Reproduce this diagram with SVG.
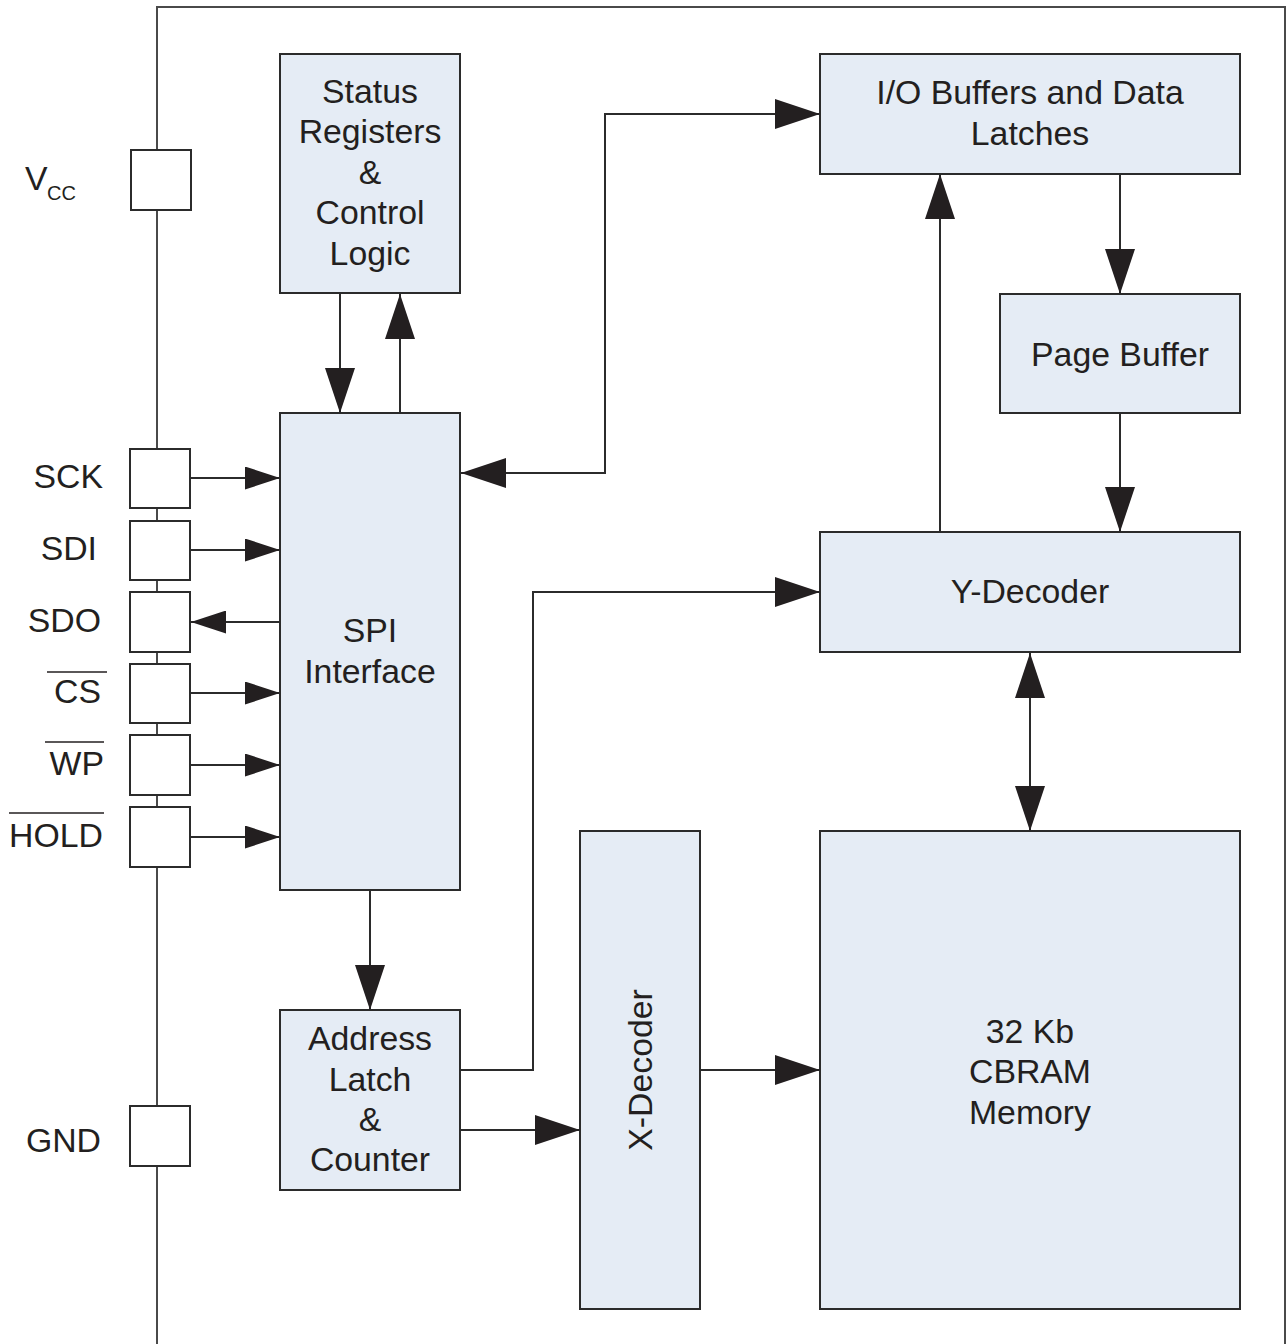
<svg xmlns="http://www.w3.org/2000/svg" width="1288" height="1344" viewBox="0 0 1288 1344">
<defs>
<style>
.blk{fill:#e5ecf5;stroke:#2b2b2b;stroke-width:2}
.pin{fill:#ffffff;stroke:#2b2b2b;stroke-width:2}
.frame{fill:none;stroke:#4a4a4a;stroke-width:2}
.con{fill:none;stroke:#2b2b2b;stroke-width:2}
.ar{marker-end:url(#ah)}
.ar2{marker-start:url(#ah);marker-end:url(#ah)}
.pa{marker-end:url(#ph)}
text{font-family:"Liberation Sans",Arial,sans-serif;font-size:33.8px;fill:#231f20}
.c{text-anchor:middle}
.e{text-anchor:end}
.ov{stroke:#231f20;stroke-width:1.5}
</style>
<marker id="ah" viewBox="0 0 45 30" refX="45" refY="15" markerWidth="45" markerHeight="30" markerUnits="userSpaceOnUse" orient="auto-start-reverse">
<path d="M0,0 L45,15 L0,30 z" fill="#231f20"/>
</marker>
<marker id="ph" viewBox="0 0 35 23" refX="35" refY="11.5" markerWidth="35" markerHeight="23" markerUnits="userSpaceOnUse" orient="auto-start-reverse">
<path d="M0,0 L35,11.5 L0,23 z" fill="#231f20"/>
</marker>
</defs>
<rect width="1288" height="1344" fill="#ffffff"/>
<path class="frame" d="M157,1344 V7 H1285 V1344"/>

<g id="pin-vcc"><rect class="pin" x="131" y="150" width="60" height="60"/>
<text x="25" y="190">V</text><text x="47" y="200" style="font-size:20px">CC</text></g>
<g id="pin-sck"><rect class="pin" x="130" y="449" width="60" height="59"/><text class="e" x="103" y="488">SCK</text></g>
<g id="pin-sdi"><rect class="pin" x="130" y="521" width="60" height="59"/><text class="e" x="97" y="560">SDI</text></g>
<g id="pin-sdo"><rect class="pin" x="130" y="592" width="60" height="60"/><text class="e" x="101" y="632">SDO</text></g>
<g id="pin-cs"><rect class="pin" x="130" y="664" width="60" height="59"/><text class="e" x="101" y="703">CS</text><line class="ov" x1="47" y1="672" x2="107" y2="672"/></g>
<g id="pin-wp"><rect class="pin" x="130" y="735" width="60" height="60"/><text class="e" x="104" y="775">WP</text><line class="ov" x1="45" y1="742" x2="104" y2="742"/></g>
<g id="pin-hold"><rect class="pin" x="130" y="807" width="60" height="60"/><text class="e" x="103" y="847">HOLD</text><line class="ov" x1="9" y1="813" x2="104" y2="813"/></g>
<g id="pin-gnd"><rect class="pin" x="130" y="1106" width="60" height="60"/><text class="e" x="101" y="1152">GND</text></g>

<g id="status"><rect class="blk" x="280" y="54" width="180" height="239"/>
<text class="c" x="370" y="103">Status</text><text class="c" x="370" y="143">Registers</text><text class="c" x="370" y="184">&amp;</text><text class="c" x="370" y="224">Control</text><text class="c" x="370" y="265">Logic</text></g>
<g id="spi"><rect class="blk" x="280" y="413" width="180" height="477"/>
<text class="c" x="370" y="642">SPI</text><text class="c" x="370" y="683">Interface</text></g>
<g id="addr"><rect class="blk" x="280" y="1010" width="180" height="180"/>
<text class="c" x="370" y="1050">Address</text><text class="c" x="370" y="1091">Latch</text><text class="c" x="370" y="1131">&amp;</text><text class="c" x="370" y="1171">Counter</text></g>
<g id="xdec"><rect class="blk" x="580" y="831" width="120" height="478"/>
<text class="c" transform="translate(652,1070) rotate(-90)" x="0" y="0">X-Decoder</text></g>
<g id="io"><rect class="blk" x="820" y="54" width="420" height="120"/>
<text class="c" x="1030" y="104">I/O Buffers and Data</text><text class="c" x="1030" y="145">Latches</text></g>
<g id="page"><rect class="blk" x="1000" y="294" width="240" height="119"/>
<text class="c" x="1120" y="366">Page Buffer</text></g>
<g id="ydec"><rect class="blk" x="820" y="532" width="420" height="120"/>
<text class="c" x="1030" y="603">Y-Decoder</text></g>
<g id="cbram"><rect class="blk" x="820" y="831" width="420" height="478"/>
<text class="c" x="1030" y="1043">32 Kb</text><text class="c" x="1030" y="1083">CBRAM</text><text class="c" x="1030" y="1124">Memory</text></g>

<g id="connectors">
<path class="con pa" d="M190,478 H280"/>
<path class="con pa" d="M190,550 H280"/>
<path class="con pa" d="M280,622 H191"/>
<path class="con pa" d="M190,693 H280"/>
<path class="con pa" d="M190,765 H280"/>
<path class="con pa" d="M190,837 H280"/>
<path class="con ar" d="M340,293 V413"/>
<path class="con ar" d="M400,413 V294"/>
<path class="con ar2" d="M461,473 H605 V114 H820"/>
<path class="con ar" d="M940,532 V174"/>
<path class="con ar" d="M1120,174 V294"/>
<path class="con ar" d="M1120,413 V532"/>
<path class="con ar2" d="M1030,653 V831"/>
<path class="con ar" d="M370,890 V1010"/>
<path class="con ar" d="M460,1070 H533 V592 H820"/>
<path class="con ar" d="M460,1130 H580"/>
<path class="con ar" d="M700,1070 H820"/>
</g>
</svg>
